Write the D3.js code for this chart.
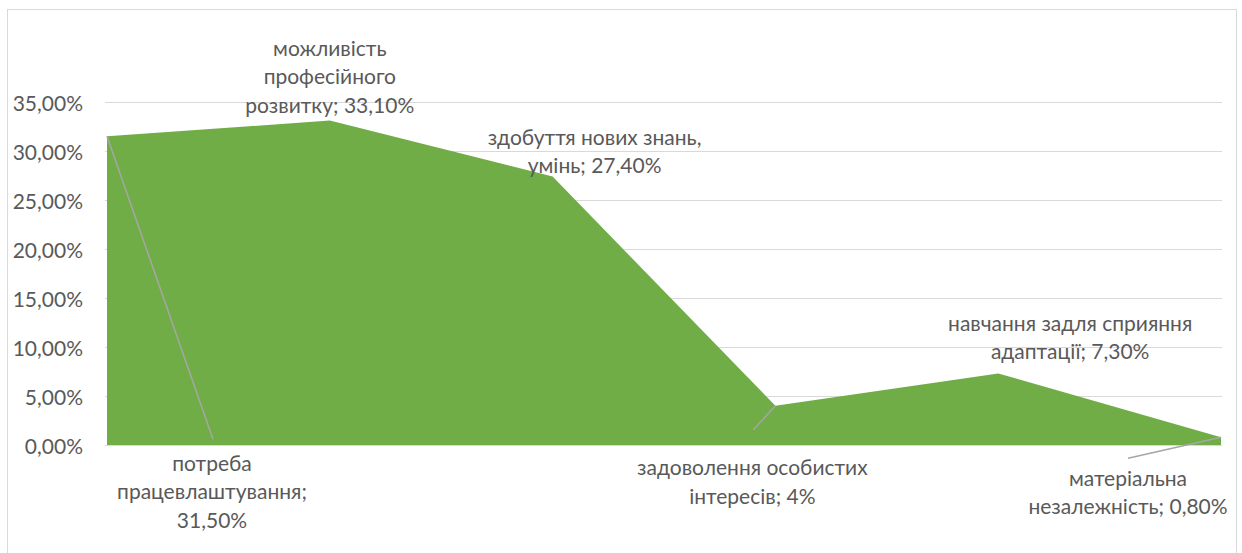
<!DOCTYPE html>
<html>
<head>
<meta charset="utf-8">
<script src="https://cdn.jsdelivr.net/npm/d3@7"></script>
<style>
  body { margin: 0; background: #fff; }
  svg text { font-family: Lato, "Noto Sans", sans-serif; fill: #595959; }
</style>
</head>
<body>
<div class="graph"></div>
<script>
// data
var categories = [
  "потреба працевлаштування",
  "можливість професійного розвитку",
  "здобуття нових знань, умінь",
  "задоволення особистих інтересів",
  "навчання задля сприяння адаптації",
  "матеріальна незалежність"
];
var values = [31.5, 33.1, 27.4, 4, 7.3, 0.8];
var labelLines = [
  ["потреба", "працевлаштування;", "31,50%"],
  ["можливість", "професійного", "розвитку; 33,10%"],
  ["здобуття нових знань,", "умінь; 27,40%"],
  ["задоволення особистих", "інтересів; 4%"],
  ["навчання задля сприяння", "адаптації; 7,30%"],
  ["матеріальна", "незалежність; 0,80%"]
];
var yTicks = [0, 5, 10, 15, 20, 25, 30, 35];

// where each label sits relative to its point (first line centre), and leader line ends
var labelOffset = [[105, 327], [0, -72], [42, -39], [-23, 62], [72, -50], [-93, 41]];
var leaderEnd = [[106, 303], null, null, [-22, 24], null, [-93, 21]];

var width = 1242, height = 553;
var lineH = 28.5;
var fontSize = 21;

var svg = d3.select("div.graph").append("svg")
    .attr("width", width)
    .attr("height", height);

// chart border
svg.append("rect")
    .attr("x", 7.5).attr("y", 9.5)
    .attr("width", 1229).attr("height", 560)
    .attr("fill", "none")
    .attr("stroke", "#d9d9d9");

var x = d3.scalePoint().domain(categories).range([107, 1221]);
var y = d3.scaleLinear().domain([0, 35]).range([445, 102]);

// gridlines
svg.append("g").selectAll("line")
    .data(yTicks)
    .enter().append("line")
      .attr("x1", 105).attr("x2", 1222)
      .attr("y1", function(d) { return Math.round(y(d)) + 0.5; })
      .attr("y2", function(d) { return Math.round(y(d)) + 0.5; })
      .attr("stroke", "#d9d9d9")
      .attr("stroke-width", 1);

// y axis labels
var fmt = function(d) { return d.toFixed(2).replace(".", ",") + "%"; };
svg.append("g")
    .attr("transform", "translate(83,2)")
    .call(d3.axisLeft(y).tickValues(yTicks).tickFormat(fmt).tickSize(0).tickPadding(0))
    .call(function(g) { g.select(".domain").remove(); })
    .selectAll("text")
      .attr("font-size", fontSize)
      .attr("fill", "#595959")
      .style("font-family", "Lato, 'Noto Sans', sans-serif");

var pts = categories.map(function(c, i) { return {cat: c, val: values[i], i: i}; });

// the area
var area = d3.area()
    .x(function(d) { return x(d.cat); })
    .y0(y(0))
    .y1(function(d) { return y(d.val); });

svg.append("path")
    .datum(pts)
    .attr("d", area)
    .attr("fill", "#70ad47");

// leader lines
pts.forEach(function(d) {
  var e = leaderEnd[d.i];
  if (!e) return;
  var px = x(d.cat), py = y(d.val);
  svg.append("line")
      .attr("x1", px).attr("y1", py)
      .attr("x2", px + e[0]).attr("y2", py + e[1])
      .attr("stroke", "#a6a6a6")
      .attr("stroke-width", 1.5);
});

// data labels
pts.forEach(function(d) {
  var px = x(d.cat) + labelOffset[d.i][0];
  var py = y(d.val) + labelOffset[d.i][1];
  var t = svg.append("text")
      .attr("text-anchor", "middle")
      .attr("font-size", fontSize);
  labelLines[d.i].forEach(function(s, k) {
    t.append("tspan")
        .attr("x", px)
        .attr("y", py + k * lineH)
        .attr("dy", "0.35em")
        .text(s);
  });
});
</script>
</body>
</html>
